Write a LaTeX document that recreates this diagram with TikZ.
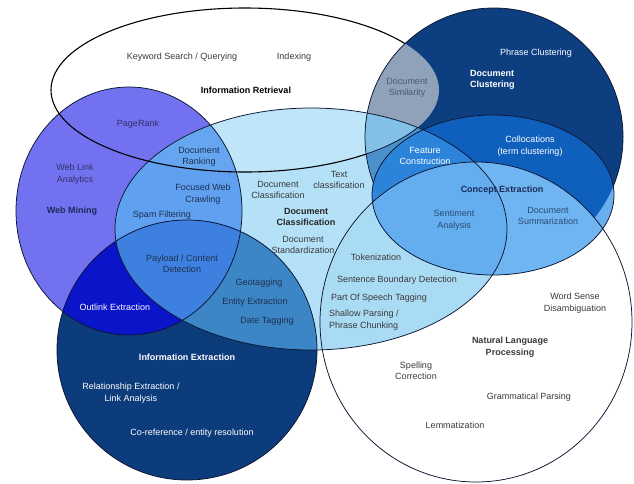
\documentclass[tikz,border=0pt]{standalone}
\usepackage{fontspec}
\setmainfont{Liberation Sans}
\definecolor{cLine}{HTML}{0B1530}
\definecolor{cTxt}{HTML}{3A3A3A}
\definecolor{cDCl}{HTML}{0D3F80}
\definecolor{cSim}{HTML}{8FA2BA}
\definecolor{cWM}{HTML}{7272F0}
\definecolor{cDC}{HTML}{B4E1F7}
\definecolor{cDCIR}{HTML}{BEE5F8}
\definecolor{cDCWM}{HTML}{5FA0F0}
\definecolor{cDCWMIR}{HTML}{66A6F1}
\definecolor{cDCDCl}{HTML}{4A90CA}
\definecolor{cDCDClIR}{HTML}{82C0E8}
\definecolor{cIE}{HTML}{0C3C7C}
\definecolor{cIEWM}{HTML}{0A14C8}
\definecolor{cIEDC}{HTML}{3C86C6}
\definecolor{cIEDCWM}{HTML}{3D80E0}
\definecolor{cNLPDC}{HTML}{AADBF4}
\definecolor{cCE}{HTML}{6AAEEE}
\definecolor{cCEDC}{HTML}{2F86DC}
\definecolor{cCEDCl}{HTML}{0F5FBD}
\definecolor{cCEDClDC}{HTML}{2C84DA}
\definecolor{cCENLP}{HTML}{6FB5F1}
\definecolor{cCENLPDC}{HTML}{64AEF0}
\definecolor{cNavyTxt}{HTML}{1C2A58}
\definecolor{cPurTxt}{HTML}{30306A}
\definecolor{cMidTxt}{HTML}{1E3050}
\definecolor{cSenTxt}{HTML}{2A4A70}
\begin{document}
\begin{tikzpicture}[x=1pt,y=-1pt,
  lbl/.style={font=\fontsize{9}{11.5}\selectfont, align=center, inner sep=0pt, text=cTxt},
  ttl/.style={lbl, font=\fontsize{9}{11.5}\selectfont\bfseries},
  ol/.style={draw=cLine, line width=0.75pt},
  irl/.style={draw=black, line width=1.1pt}]
\useasboundingbox (0,0) rectangle (634,483);
\fill[white] (0,0) rectangle (634,483);
\def\shIR{(245,90) ellipse [x radius=194pt, y radius=82pt]}
\def\shDCl{(494,137) circle [radius=129pt]}
\def\shWM{(129,211) ellipse [x radius=113pt, y radius=124pt]}
\def\shDC{(311,229) ellipse [x radius=196pt, y radius=121pt]}
\def\shIE{(187,350) circle [radius=130pt]}
\def\shCE{(493,195) ellipse [x radius=121pt, y radius=80pt]}
\def\shNLP{(476,322) ellipse [x radius=156pt, y radius=160pt]}
\def\shAll{(-5,-5) rectangle (640,490)}
% Information Retrieval and Document Clustering
\fill[white] \shIR;
\fill[cDCl] \shDCl;
\begin{scope}\clip \shIR; \fill[cSim] \shDCl; \end{scope}
% Web Mining
\fill[cWM] \shWM;
% Document Classification
\fill[cDC] \shDC;
\begin{scope}\clip \shDC; \fill[cDCIR] \shIR; \end{scope}
\begin{scope}\clip \shDC; \fill[cDCWM] \shWM; \end{scope}
\begin{scope}\clip \shDC; \clip \shWM; \fill[cDCWMIR] \shIR; \end{scope}
\begin{scope}\clip \shDC; \fill[cDCDCl] \shDCl; \end{scope}
\begin{scope}\clip \shDC; \clip \shDCl; \fill[cDCDClIR] \shIR; \end{scope}
% Information Extraction
\fill[cIE] \shIE;
\begin{scope}\clip \shIE; \fill[cIEWM] \shWM; \end{scope}
\begin{scope}\clip \shIE; \fill[cIEDC] \shDC; \end{scope}
\begin{scope}\clip \shIE; \clip \shDC; \fill[cIEDCWM] \shWM; \end{scope}
% Natural Language Processing
\fill[white] \shNLP;
\begin{scope}\clip \shNLP; \fill[cNLPDC] \shDC; \end{scope}
% Concept Extraction
\fill[cCE] \shCE;
\begin{scope}\clip \shCE; \fill[cCEDC] \shDC; \end{scope}
\begin{scope}\clip \shCE; \fill[cCEDCl] \shDCl; \end{scope}
\begin{scope}\clip \shCE; \clip \shDCl; \fill[cCEDClDC] \shDC; \end{scope}
\begin{scope}\clip \shCE; \fill[cCENLP] \shNLP; \end{scope}
\begin{scope}\clip \shCE; \clip \shNLP; \fill[cCENLPDC] \shDC; \end{scope}
% outlines
\begin{scope}[even odd rule]\clip \shAll \shCE; \path[ol] \shDCl; \end{scope}
\path[ol] \shWM;
\path[ol] \shDC;
\path[ol] \shIE;
\path[ol] \shNLP;
\path[ol] \shCE;
\begin{scope}[even odd rule]\clip \shAll \shDCl; \path[irl] \shIR; \end{scope}
\begin{scope}\clip \shDCl; \clip \shDC; \path[ol] \shIR; \end{scope}
% labels
\node[lbl] (kw) at (182,57) {Keyword Search / Querying};
\node[lbl] (idx) at (294,57) {Indexing};
\node[ttl, text=black] (ir) at (246,90) {Information Retrieval};
\node[lbl, text=cMidTxt!80!white] (sim) at (407,88) {Document\\Similarity};
\node[lbl, text=white] (phr) at (536,53) {Phrase Clustering};
\node[ttl, text=white, anchor=west, align=left] (dcl) at (470,80) {Document\\Clustering};
\node[lbl, text=cPurTxt] (pr) at (138,124) {PageRank};
\node[lbl, text=cMidTxt] (drank) at (199,157) {Document\\Ranking};
\node[lbl, text=cPurTxt] (wla) at (75,174) {Web Link\\Analytics};
\node[ttl, text=cNavyTxt] (wm) at (72,211) {Web Mining};
\node[lbl, text=cMidTxt] (fwc) at (203,194) {Focused Web\\Crawling};
\node[lbl, text=cMidTxt] (spam) at (162,215) {Spam Filtering};
\node[lbl] (dcs) at (278,190) {Document\\Classification};
\node[lbl] (tc) at (339,180) {Text\\classification};
\node[ttl, text=black!85] (dc) at (306,217) {Document\\Classification};
\node[lbl] (dstd) at (303,245) {Document\\Standardization};
\node[lbl, text=white] (fc) at (425,156) {Feature\\Construction};
\node[lbl, text=white] (col) at (530,146) {Collocations\\(term clustering)};
\node[ttl, text=cNavyTxt] (ce) at (502,190) {Concept Extraction};
\node[lbl, text=cSenTxt] (sa) at (454,220) {Sentiment\\Analysis};
\node[lbl, text=cSenTxt] (ds) at (548,216) {Document\\Summarization};
\node[lbl] (tok) at (376,257) {Tokenization};
\node[lbl] (sbd) at (397,280) {Sentence Boundary Detection};
\node[lbl] (pos) at (379,298) {Part Of Speech Tagging};
\node[lbl, anchor=west, align=left] (shp) at (329,320) {Shallow Parsing /\\Phrase Chunking};
\node[lbl] (wsd) at (575,303) {Word Sense\\Disambiguation};
\node[ttl] (nlp) at (510,347) {Natural Language\\Processing};
\node[lbl] (spc) at (416,371) {Spelling\\Correction};
\node[lbl] (gp) at (529,397) {Grammatical Parsing};
\node[lbl] (lem) at (455,425) {Lemmatization};
\node[lbl, text=cMidTxt] (pay) at (182,264) {Payload / Content\\Detection};
\node[lbl, text=cMidTxt] (geo) at (259,283) {Geotagging};
\node[lbl, text=cMidTxt] (ent) at (255,302) {Entity Extraction};
\node[lbl, text=cMidTxt] (dt) at (267,321) {Date Tagging};
\node[lbl, text=white] (out) at (115,307) {Outlink Extraction};
\node[ttl, text=white] (ie) at (187,357) {Information Extraction};
\node[lbl, text=white] (rel) at (131,393) {Relationship Extraction /\\Link Analysis};
\node[lbl, text=white] (coref) at (192,433) {Co-reference / entity resolution};
\end{tikzpicture}
\end{document}
